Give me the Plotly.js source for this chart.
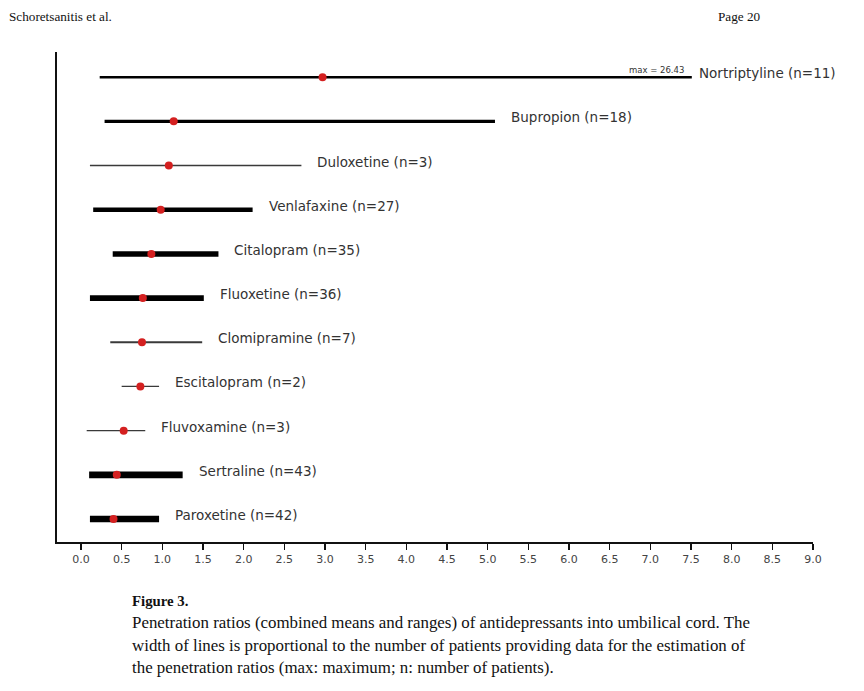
<!DOCTYPE html>
<html>
<head>
<meta charset="utf-8">
<script src="https://cdn.plot.ly/plotly-3.0.1.min.js"></script>
<style>html,body{margin:0;padding:0;background:#fff;}#chart{width:864px;height:691px;}</style>
</head>
<body>
<div id="chart"></div>
<script>
// Data (bottom to top)
const drugs = ["Paroxetine","Sertraline","Fluvoxamine","Escitalopram","Clomipramine","Fluoxetine","Citalopram","Venlafaxine","Duloxetine","Bupropion","Nortriptyline"];
const nPatients = [42,43,3,2,7,36,35,27,3,18,11];
const minRatio = [0.11,0.10,0.07,0.50,0.36,0.11,0.39,0.15,0.11,0.29,0.23];
const maxRatio = [0.96,1.25,0.79,0.96,1.49,1.51,1.69,2.11,2.71,5.09,26.43];
const meanRatio = [0.40,0.44,0.525,0.73,0.75,0.76,0.865,0.98,1.08,1.14,2.97];
const axisCap = 7.51; // range lines beyond this are truncated and annotated with "max ="
const tickVals = [0,0.5,1,1.5,2,2.5,3,3.5,4,4.5,5,5.5,6,6.5,7,7.5,8,8.5,9];
const tickText = tickVals.map(v => v.toFixed(1));

const traces = [];
drugs.forEach((d, i) => {
  const w = 1 + nPatients[i] * 0.13;
  traces.push({
    type: "scatter", mode: "lines",
    x: [minRatio[i], Math.min(maxRatio[i], axisCap)], y: [i, i],
    line: {color: w < 2 ? "#3a3a3a" : "#000", width: w},
    hoverinfo: "skip", showlegend: false
  });
});
traces.push({
  type: "scatter", mode: "markers",
  x: meanRatio, y: drugs.map((d, i) => i),
  marker: {color: "#d42020", size: 8, line: {width: 0}},
  showlegend: false
});

const annotations = drugs.map((d, i) => {
  const truncated = maxRatio[i] > axisCap;
  return {
    x: Math.min(maxRatio[i], axisCap), y: i, xref: "x", yref: "y",
    text: d + " (n=" + nPatients[i] + ")", showarrow: false,
    xanchor: "left", yanchor: "middle", xshift: truncated ? 5 : 14, yshift: 4,
    font: {family: "DejaVu Sans", size: 13.5, color: "#333"}
  };
});
drugs.forEach((d, i) => {
  if (maxRatio[i] > axisCap) {
    annotations.push({
      x: axisCap, y: i, xref: "x", yref: "y",
      text: "max = " + maxRatio[i].toFixed(2), showarrow: false,
      xanchor: "right", yanchor: "bottom", xshift: -6, yshift: 0,
      font: {family: "DejaVu Sans", size: 8.5, color: "#333"}
    });
  }
});

// page texts (paper coords: plot area x 57..812.7 px, y 52..542 px)
const px = v => (v - 57) / 755.7;
const py = v => (542 - v) / 490;
const serif = "Liberation Serif";
annotations.push(
  {xref:"paper", yref:"paper", x: px(7), y: py(16), xanchor:"left", yanchor:"middle", showarrow:false,
   text:"Schoretsanitis et al.", font:{family:serif, size:13.2, color:"#111"}},
  {xref:"paper", yref:"paper", x: px(716), y: py(16), xanchor:"left", yanchor:"middle", showarrow:false,
   text:"Page 20", font:{family:serif, size:13.2, color:"#111"}},
  {xref:"paper", yref:"paper", x: px(130), y: py(601), xanchor:"left", yanchor:"middle", showarrow:false,
   text:"<b>Figure 3.</b>", font:{family:serif, size:14.8, color:"#111"}},
  {xref:"paper", yref:"paper", x: px(130), y: py(622), xanchor:"left", yanchor:"middle", showarrow:false,
   text:"Penetration ratios (combined means and ranges) of antidepressants into umbilical cord. The", font:{family:serif, size:16.9, color:"#111"}},
  {xref:"paper", yref:"paper", x: px(130), y: py(645), xanchor:"left", yanchor:"middle", showarrow:false,
   text:"width of lines is proportional to the number of patients providing data for the estimation of", font:{family:serif, size:16.9, color:"#111"}},
  {xref:"paper", yref:"paper", x: px(130), y: py(667), xanchor:"left", yanchor:"middle", showarrow:false,
   text:"the penetration ratios (max: maximum; n: number of patients).", font:{family:serif, size:16.9, color:"#111"}}
);

const layout = {
  width: 864, height: 691,
  margin: {l: 57, r: 51.3, t: 52, b: 149, pad: 0},
  paper_bgcolor: "#fff", plot_bgcolor: "#fff",
  showlegend: false,
  xaxis: {
    range: [-0.295, 9.0], tickvals: tickVals, ticktext: tickText,
    showgrid: false, zeroline: false, showline: true, linecolor: "#111", linewidth: 2,
    ticks: "outside", ticklen: 6, tickwidth: 1.5, tickcolor: "#111",
    tickfont: {family: "DejaVu Sans", size: 11, color: "#444"}, fixedrange: true
  },
  yaxis: {
    range: [-0.52, 10.57], showticklabels: false, ticks: "",
    showgrid: false, zeroline: false, showline: true, linecolor: "#111", linewidth: 2, fixedrange: true
  },
  annotations: annotations
};

Plotly.newPlot("chart", traces, layout, {displayModeBar: false, staticPlot: true});
</script>
</body>
</html>
